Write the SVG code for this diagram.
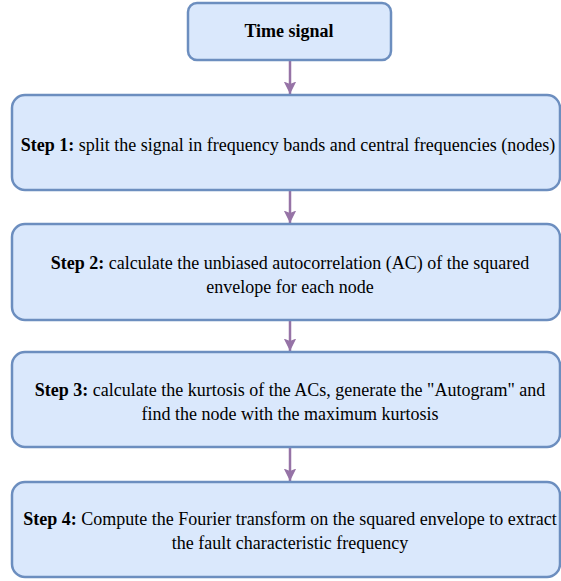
<svg xmlns="http://www.w3.org/2000/svg" width="561" height="581" viewBox="0 0 561 581">
<defs>
<style>
.box{fill:#dae8fc;stroke:#6c8ebf;stroke-width:2.5}
.t{font-family:"Liberation Serif","Times New Roman",serif;font-size:18px;text-anchor:middle;fill:#000}
.b{font-weight:bold}
.conn{stroke:#9673a6;stroke-width:2.5;fill:none}
</style>
<marker id="ah" viewBox="0 0 10 10" refX="10" refY="5" markerWidth="5" markerHeight="5.5" orient="auto" markerUnits="strokeWidth">
<path d="M0,0 L10,5 L0,10 L2,5 Z" fill="#9673a6"/>
</marker>
</defs>
<g id="connectors">
<line class="conn" x1="290" y1="60" x2="290" y2="94" marker-end="url(#ah)"/>
<line class="conn" x1="290" y1="190" x2="290" y2="223" marker-end="url(#ah)"/>
<line class="conn" x1="290" y1="320" x2="290" y2="351" marker-end="url(#ah)"/>
<line class="conn" x1="290" y1="447" x2="290" y2="481" marker-end="url(#ah)"/>
</g>
<g id="time-signal">
<rect class="box" x="188" y="3" width="203" height="57" rx="9"/>
<text class="t b" x="289" y="37">Time signal</text>
</g>
<g id="step1">
<rect class="box" x="12" y="95" width="548" height="95" rx="13"/>
<text class="t" x="288" y="151"><tspan class="b">Step 1:</tspan> split the signal in frequency bands and central frequencies (nodes)</text>
</g>
<g id="step2">
<rect class="box" x="12" y="224" width="548" height="96" rx="13"/>
<text class="t" x="290" y="269"><tspan class="b">Step 2:</tspan> calculate the unbiased autocorrelation (AC) of the squared</text>
<text class="t" x="290" y="293">envelope for each node</text>
</g>
<g id="step3">
<rect class="box" x="12" y="352" width="548" height="95" rx="13"/>
<text class="t" x="290" y="396"><tspan class="b">Step 3:</tspan> calculate the kurtosis of the ACs, generate the "Autogram" and</text>
<text class="t" x="290" y="420">find the node with the maximum kurtosis</text>
</g>
<g id="step4">
<rect class="box" x="12" y="482" width="548" height="95" rx="13"/>
<text class="t" x="290" y="525"><tspan class="b">Step 4:</tspan> Compute the Fourier transform on the squared envelope to extract</text>
<text class="t" x="290" y="549">the fault characteristic frequency</text>
</g>
</svg>
